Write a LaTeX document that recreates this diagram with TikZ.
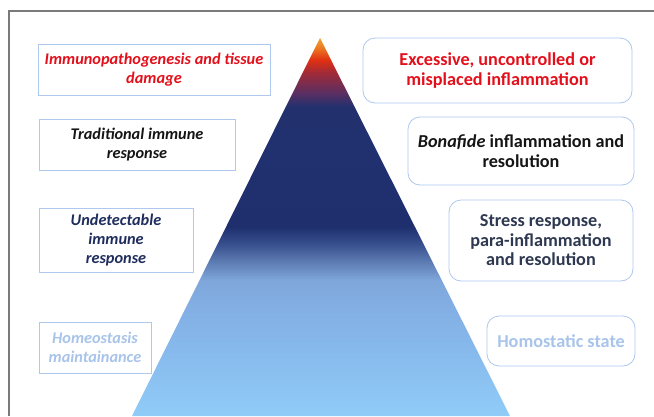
\documentclass[tikz,border=0pt]{standalone}
\usepackage{fontspec}
\setmainfont{Carlito}
\usetikzlibrary{positioning}
\definecolor{frameg}{HTML}{7A7A7A}
\definecolor{boxline}{HTML}{AEC8EE}
\definecolor{txtred}{HTML}{E3101C}
\definecolor{txtnavy}{HTML}{1F2D5E}
\definecolor{txtlight}{HTML}{A8C4EA}
\definecolor{txtslate}{HTML}{2E3850}
\definecolor{txtdark}{HTML}{151515}
\definecolor{s416}{HTML}{90CCF8}
\definecolor{s360}{HTML}{88BCEE}
\definecolor{s300}{HTML}{82ADE2}
\definecolor{s280}{HTML}{7EA6DA}
\definecolor{s260}{HTML}{5A78B0}
\definecolor{s245}{HTML}{3A5290}
\definecolor{s227}{HTML}{1F2F6E}
\definecolor{s107}{HTML}{22306E}
\definecolor{s93}{HTML}{5A2F62}
\definecolor{s73}{HTML}{A02A38}
\definecolor{s60}{HTML}{E03012}
\definecolor{s48}{HTML}{EC7A22}
\definecolor{s38}{HTML}{F0A030}
\pgfdeclareverticalshading{pyrshade}{100bp}{%
  color(0bp)=(s416); color(25bp)=(s416); color(32.4bp)=(s360);
  color(40.3bp)=(s300); color(43bp)=(s280); color(45.6bp)=(s260);
  color(47.6bp)=(s245); color(50bp)=(s227); color(65.9bp)=(s107);
  color(67.7bp)=(s93); color(70.4bp)=(s73); color(72.1bp)=(s60);
  color(73.7bp)=(s48); color(75bp)=(s38); color(100bp)=(s38)}
\tikzset{
  leftbox/.style={draw=boxline, line width=0.8pt, align=center, inner sep=2pt,
    font=\fontsize{16.3}{19}\selectfont\bfseries\itshape},
  rightbox/.style={draw=boxline, line width=0.8pt, rounded corners=12pt, align=center, inner sep=2pt,
    font=\fontsize{18.2}{19.5}\selectfont\bfseries},
}
\begin{document}
\begin{tikzpicture}[x=1pt,y=-1pt]
\useasboundingbox (0,0) rectangle (654,416);
\fill[white] (0,0) rectangle (654,416);
% frame
\draw[frameg, line width=1.1pt] (9,416) -- (9,11) -- (654,11);
% pyramid
\coordinate (apex) at (320,38);
\coordinate (bl) at (132,416);
\coordinate (br) at (510,416);
\path[shading=pyrshade] (apex) -- (bl) -- (br) -- cycle;
% left boxes
\node[leftbox, text=txtred, minimum width=232pt, minimum height=51pt] (l1) at (154,69.5)
  {Immunopathogenesis and tissue\\damage};
\node[leftbox, text=txtdark, minimum width=196pt, minimum height=51pt] (l2) at (137,144.5)
  {Traditional immune\\response};
\node[leftbox, text=txtnavy, minimum width=154pt, minimum height=64pt] (l3) at (116,240)
  {Undetectable\\immune\\response};
\node[leftbox, text=txtlight, minimum width=112pt, minimum height=51pt] (l4) at (95,347.5)
  {Homeostasis\\maintainance};
% right boxes
\node[rightbox, text=txtred, minimum width=269pt, minimum height=65pt] (r1) at (497.5,70.5)
  {Excessive, uncontrolled or\\misplaced inflammation};
\node[rightbox, text=txtdark, minimum width=226pt, minimum height=68pt] (r2) at (521,151)
  {{\itshape Bonafide} inflammation and\\resolution};
\node[rightbox, text=txtslate, minimum width=184pt, minimum height=81pt] (r3) at (541,240.5)
  {Stress response,\\para-inflammation\\and resolution};
\node[rightbox, text=txtlight, minimum width=148pt, minimum height=50pt] (r4) at (561,341)
  {Homostatic state};
\end{tikzpicture}
\end{document}
